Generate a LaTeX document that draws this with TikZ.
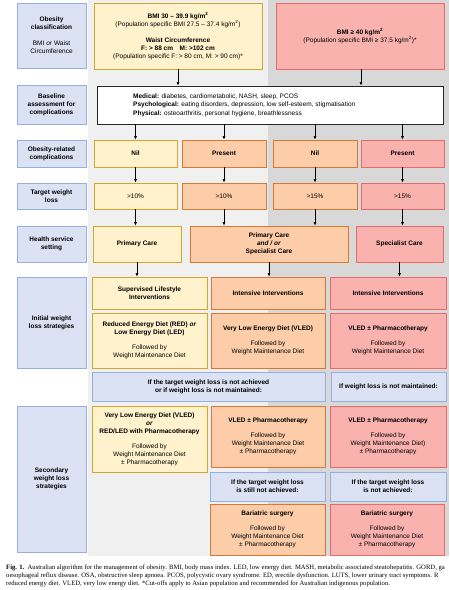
\documentclass[tikz,border=0pt]{standalone}
\usepackage{fontspec}
\setmainfont{Liberation Sans}
\newfontfamily\capfont{Liberation Serif}
\usetikzlibrary{arrows.meta}
\definecolor{lblfill}{RGB}{218,226,243}
\definecolor{lbldraw}{RGB}{150,175,225}
\definecolor{yelfill}{RGB}{255,242,204}
\definecolor{yeldraw}{RGB}{214,165,45}
\definecolor{orafill}{RGB}{252,205,168}
\definecolor{oradraw}{RGB}{216,120,50}
\definecolor{redfill}{RGB}{250,178,175}
\definecolor{reddraw}{RGB}{235,105,105}
\definecolor{bglight}{RGB}{240,240,240}
\definecolor{bgdark}{RGB}{216,216,216}
\newcommand\drawbox[7]{\node[#1, minimum width={(#4-#2)*1pt}, minimum height={(#5-#3)*1pt}] (#6) at ({(#2+#4)/2},{(#3+#5)/2}) {#7};}
\begin{document}
\begin{tikzpicture}[x=1pt,y=-1pt,
  box/.style={draw, line width=0.8pt, align=center, inner sep=1pt, font=\fontsize{6.5}{8}\selectfont},
  lbl/.style={box, fill=lblfill, draw=lbldraw, font=\fontsize{6.5}{8}\selectfont\bfseries},
  cond/.style={box, fill=lblfill, draw=lbldraw, font=\fontsize{6.5}{8}\selectfont\bfseries},
  yel/.style={box, fill=yelfill, draw=yeldraw},
  ora/.style={box, fill=orafill, draw=oradraw},
  rd/.style={box, fill=redfill, draw=reddraw},
  wht/.style={box, fill=white, draw=black!85},
  arr/.style={-{Latex[length=3.5pt,width=3pt]}, line width=0.6pt},
  captxt/.style={anchor=base west, inner sep=0pt, font=\capfont\fontsize{6.65}{8}\selectfont},
]
\useasboundingbox (0,0) rectangle (450,590);
% background
\fill[bglight] (88,0) rectangle (268,556);
\fill[bgdark] (268,0) rectangle (449,556);

% left labels
\drawbox{lbl}{17}{3}{86}{68}{l1}{Obesity\\classification\\[8pt]\textmd{BMI \textit{or} Waist}\\\textmd{Circumference}}
\drawbox{lbl}{17}{85}{86}{124}{l2}{Baseline\\assessment for\\complications}
\drawbox{lbl}{17}{140}{86}{167}{l3}{Obesity-related\\complications}
\drawbox{lbl}{17}{183}{86}{209}{l4}{Target weight\\loss}
\drawbox{lbl}{17}{226}{86}{262}{l5}{Health service\\setting}
\drawbox{lbl}{17}{277}{86}{368}{l6}{Initial weight\\loss strategies}
\drawbox{lbl}{17}{406}{86}{552}{l7}{Secondary\\weight loss\\strategies}

% row 1
\drawbox{yel}{94}{3}{262}{69}{y1}{\textbf{BMI 30 – 39.9 kg/m\textsuperscript{2}}\\(Population specific BMI 27.5 – 37.4 kg/m\textsuperscript{2})\\[8pt]\textbf{Waist Circumference}\\\textbf{F: > 88 cm\quad M: >102 cm}\\(Population specific F: > 80 cm, M: > 90 cm)*}
\drawbox{rd}{276}{3}{444}{69}{r1}{\textbf{BMI ≥ 40 kg/m\textsuperscript{2}}\\(Population specific BMI ≥ 37.5 kg/m\textsuperscript{2})*}

% row 2
\drawbox{wht}{97}{86}{443}{124}{base}{}
\node[anchor=west, align=left, inner sep=0pt, font=\fontsize{6.5}{8.5}\selectfont] (basetext) at (133,105) {\textbf{Medical:} diabetes, cardiometabolic, NASH, sleep, PCOS\\\textbf{Psychological:} eating disorders, depression, low self-esteem, stigmatisation\\\textbf{Physical:} osteoarthritis, personal hygiene, breathlessness};

% row 3
\drawbox{yel}{94}{140}{177}{167}{a3}{\textbf{Nil}}
\drawbox{ora}{182}{140}{266}{167}{b3}{\textbf{Present}}
\drawbox{ora}{273}{140}{357}{167}{c3}{\textbf{Nil}}
\drawbox{rd}{361}{140}{444}{167}{d3}{\textbf{Present}}

% row 4
\drawbox{yel}{94}{183}{177}{209}{a4}{>10\%}
\drawbox{ora}{182}{183}{266}{209}{b4}{>10\%}
\drawbox{ora}{273}{183}{357}{209}{c4}{>15\%}
\drawbox{rd}{361}{183}{444}{209}{d4}{>15\%}

% row 5
\drawbox{yel}{93}{226}{181}{262}{p5}{\textbf{Primary Care}}
\drawbox{ora}{190}{226}{348}{262}{m5}{\textbf{Primary Care}\\\textbf{\textit{and / or}}\\\textbf{Specialist Care}}
\drawbox{rd}{356}{226}{443}{262}{s5}{\textbf{Specialist Care}}

% row 6
\drawbox{yel}{92}{277}{207}{309}{i1}{\textbf{Supervised Lifestyle}\\\textbf{Interventions}}
\drawbox{ora}{211}{277}{325}{309}{i2}{\textbf{Intensive Interventions}}
\drawbox{rd}{330}{277}{446}{309}{i3}{\textbf{Intensive Interventions}}
\drawbox{yel}{92}{313}{207}{368}{j1}{\textbf{Reduced Energy Diet (RED) \textit{or}}\\\textbf{Low Energy Diet (LED)}\\[7pt]Followed by\\Weight Maintenance Diet}
\drawbox{ora}{211}{313}{325}{368}{j2}{\textbf{Very Low Energy Diet (VLED)}\\[7pt]Followed by\\Weight Maintenance Diet}
\drawbox{rd}{330}{313}{446}{368}{j3}{\textbf{VLED ± Pharmacotherapy}\\[7pt]Followed by\\Weight Maintenance Diet}

% row 7
\drawbox{cond}{92}{372}{325}{401}{k1}{If the target weight loss is not achieved\\or if weight loss is not maintained:}
\drawbox{cond}{331}{372}{446}{401}{k2}{If weight loss is not maintained:}

% row 8
\drawbox{yel}{92}{406}{207}{472}{s1}{\textbf{Very Low Energy Diet (VLED)}\\\textbf{\textit{or}}\\\textbf{RED/LED with Pharmacotherapy}\\[7pt]Followed by\\Weight Maintenance Diet\\± Pharmacotherapy}
\drawbox{ora}{211}{406}{325}{467}{s2}{\textbf{VLED ± Pharmacotherapy}\\[7pt]Followed by\\Weight Maintenance Diet\\± Pharmacotherapy}
\drawbox{rd}{330}{406}{446}{467}{s3}{\textbf{VLED ± Pharmacotherapy}\\[7pt]Followed by\\Weight Maintenance Diet)\\± Pharmacotherapy}

% row 9
\drawbox{cond}{210}{472}{325}{501}{t2}{If the target weight loss\\is still not achieved:}
\drawbox{cond}{330}{472}{446}{501}{t3}{If the target weight loss\\is not achieved:}

% row 10
\drawbox{ora}{210}{504}{325}{555}{u2}{\textbf{Bariatric surgery}\\[7pt]Followed by\\Weight Maintenance Diet\\± Pharmacotherapy}
\drawbox{rd}{330}{504}{444}{555}{u3}{\textbf{Bariatric surgery}\\[7pt]Followed by\\Weight Maintenance Diet\\± Pharmacotherapy}

% arrows
\draw[arr] (y1.south) -- (y1.south |- base.north);
\draw[arr] ([xshift=1pt]r1.south) -- ([xshift=1pt]r1.south |- base.north);
\foreach \n in {a,b,c,d} {
  \draw[arr] (base.south -| \n3.north) -- (\n3.north);
  \draw[arr] (\n3.south) -- (\n4.north);
}
\draw[arr] (a4.south) -- (a4.south |- p5.north);
\draw[arr] (b4.south) -- (b4.south |- m5.north);
\draw[arr] (c4.south) -- (c4.south |- m5.north);
\draw[arr] (d4.south) -- (d4.south |- s5.north);
\draw[arr] (p5.south) -- (p5.south |- i1.north);
\draw[arr] (m5.south) -- (m5.south |- i2.north);
\draw[arr] (s5.south) -- (s5.south |- i3.north);

% caption
\node[captxt] (cap1) at (6,569) {\textbf{Fig. 1.}\ \ Australian algorithm for the management of obesity. BMI, body mass index. LED, low energy diet. MASH, metabolic associated steatohepatitis. GORD, ga};
\node[captxt] (cap2) at (6,577) {oesophageal reflux disease. OSA, obstructive sleep apnoea. PCOS, polycystic ovary syndrome. ED, erectile dysfunction. LUTS, lower urinary tract symptoms. R};
\node[captxt] (cap3) at (6,585) {reduced energy diet. VLED, very low energy diet. *Cut-offs apply to Asian population and recommended for Australian indigenous population.};
\end{tikzpicture}
\end{document}
